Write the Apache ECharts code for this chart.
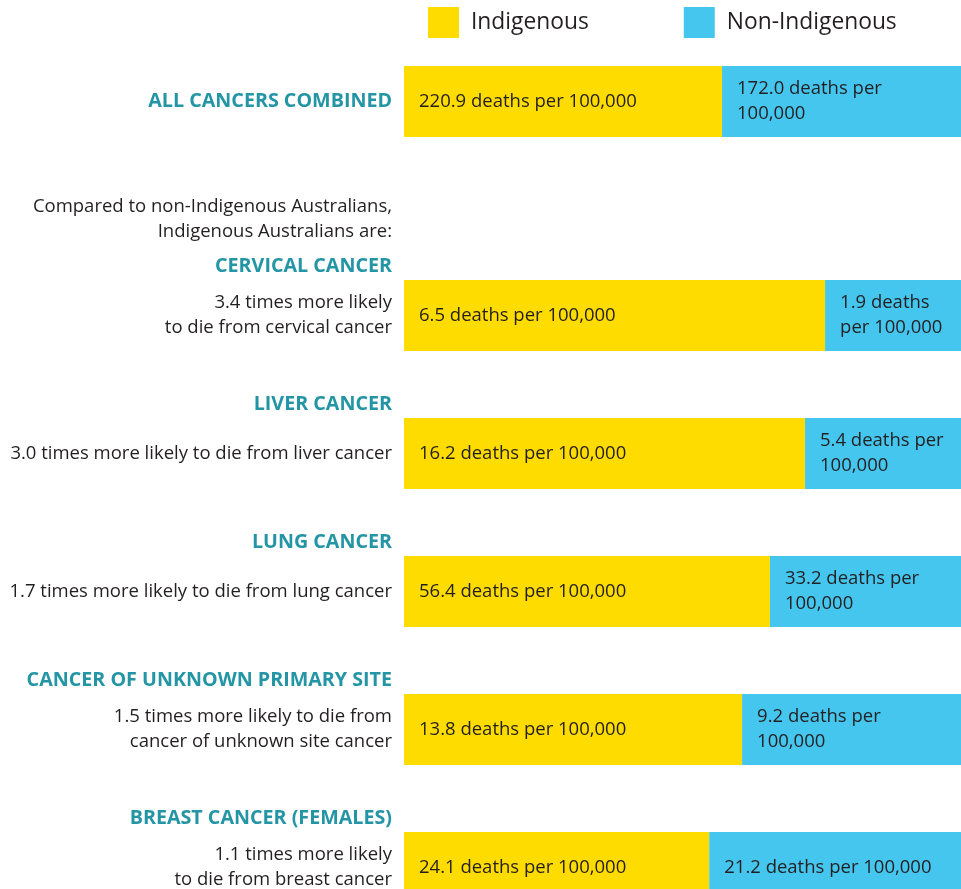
<!DOCTYPE html>
<html>
<head>
<meta charset="utf-8">
<script src="https://cdn.jsdelivr.net/npm/echarts@6/dist/echarts.min.js"></script>
<style>
  html, body { margin: 0; padding: 0; background: #fff; }
  #chart { width: 961px; height: 889px; }
</style>
</head>
<body>
<div id="chart"></div>
<script>
// death rates printed on the bars (deaths per 100,000)
const allTitle = "ALL CANCERS COMBINED"
const allIndigenous = [220.9]
const allNonIndigenous = [172.0]
// share of each bar that is yellow, % of the bar's length
const allIndigenousShare = [57.1]

const cancerTitles = [
  "CERVICAL CANCER",
  "LIVER CANCER",
  "LUNG CANCER",
  "CANCER OF UNKNOWN PRIMARY SITE",
  "BREAST CANCER (FEMALES)",
]
const cancerNotes = [
  "3.4 times more likely\nto die from cervical cancer",
  "3.0 times more likely to die from liver cancer",
  "1.7 times more likely to die from lung cancer",
  "1.5 times more likely to die from\ncancer of unknown site cancer",
  "1.1 times more likely\nto die from breast cancer",
]
const indigenous = [6.5, 16.2, 56.4, 13.8, 24.1]
const nonIndigenous = [1.9, 5.4, 33.2, 9.2, 21.2]
const indigenousShare = [75.6, 72.0, 65.7, 60.7, 54.8]
// how the non-Indigenous label wraps: 0 none, 1 before "100,000", 2 before "per"
const nonWrap = [2, 1, 1, 1, 0]
const allNonWrap = [1]

const YELLOW = "#FFDC00"
const BLUE = "#44C6EE"
const TEAL = "#2395A5"
const INK = "#231F20"
const FONT = "Open Sans"
const BODY_SIZE = 18.5
const HEAD_SIZE = 19.7

function rest(shares) {
  return shares.map((v) => 100 - v)
}

function wrapLabel(v, mode) {
  const s = v.toFixed(1)
  if (mode === 1) return s + " deaths per\n100,000"
  if (mode === 2) return s + " deaths\nper 100,000"
  return s + " deaths per 100,000"
}

// Open Sans sits a little higher than the original face, nudge it down
const barLabel = {
  show: true,
  position: "insideLeft",
  distance: 15,
  color: INK,
  fontFamily: FONT,
  fontSize: BODY_SIZE,
  lineHeight: 25,
  align: "left",
  padding: [5, 0, 0, 0],
}

const chart = echarts.init(document.getElementById("chart"))

const option = {
  backgroundColor: "#fff",
  animation: false,
  textStyle: { fontFamily: FONT },
  title: {
    text: "Compared to non-Indigenous Australians,\nIndigenous Australians are:",
    left: 392,
    top: 194,
    padding: 0,
    textAlign: "right",
    textStyle: {
      fontFamily: FONT,
      fontSize: BODY_SIZE,
      fontWeight: "normal",
      color: INK,
      lineHeight: 25,
    },
  },
  legend: {
    left: 423,
    top: 2,
    icon: "rect",
    itemWidth: 31,
    itemHeight: 31,
    itemGap: 95,
    data: ["Indigenous", "Non-Indigenous"],
    textStyle: {
      fontFamily: FONT,
      fontSize: 22.8,
      color: INK,
      padding: [0, 0, 0, 7],
    },
  },
  grid: [
    { left: 404, right: 0, top: 66, height: 71, outerBoundsMode: "none" },
    // five rows, 138px apart, first bar centred at 315.5
    { left: 404, right: 0, top: 315.5, height: 552, outerBoundsMode: "none" },
  ],
  xAxis: [
    { type: "value", gridIndex: 0, min: 0, max: 100, show: false },
    { type: "value", gridIndex: 1, min: 0, max: 100, show: false },
  ],
  yAxis: [
    {
      type: "category",
      gridIndex: 0,
      data: [allTitle],
      axisLine: { show: false },
      axisTick: { show: false },
      axisLabel: {
        margin: 12,
        color: TEAL,
        fontFamily: FONT,
        fontSize: HEAD_SIZE,
        fontWeight: "bold",
        padding: [4, 0, 0, 0],
      },
    },
    {
      type: "category",
      gridIndex: 1,
      inverse: true,
      boundaryGap: false,
      data: cancerNotes,
      axisLine: { show: false },
      axisTick: { show: false },
      axisLabel: {
        margin: 12,
        color: INK,
        fontFamily: FONT,
        fontSize: BODY_SIZE,
        lineHeight: 25,
        align: "right",
        padding: [5, 0, 0, 0],
      },
    },
    {
      type: "category",
      gridIndex: 1,
      inverse: true,
      boundaryGap: false,
      position: "left",
      data: cancerTitles,
      axisLine: { show: false },
      axisTick: { show: false },
      axisLabel: {
        margin: 12,
        align: "right",
        formatter: (v) => "{t|" + v + "}\n{g| }",
        rich: {
          t: {
            color: TEAL,
            fontFamily: FONT,
            fontSize: HEAD_SIZE,
            fontWeight: "bold",
            lineHeight: 20,
            align: "right",
          },
          g: { fontSize: 10, lineHeight: 99 },
        },
      },
    },
  ],
  series: [
    {
      name: "Indigenous",
      type: "bar",
      stack: "all",
      xAxisIndex: 0,
      yAxisIndex: 0,
      barWidth: 71,
      itemStyle: { color: YELLOW },
      label: { ...barLabel, formatter: (p) => wrapLabel(allIndigenous[p.dataIndex], 0) },
      data: allIndigenousShare,
    },
    {
      name: "Non-Indigenous",
      type: "bar",
      stack: "all",
      xAxisIndex: 0,
      yAxisIndex: 0,
      barWidth: 71,
      itemStyle: { color: BLUE },
      label: {
        ...barLabel,
        formatter: (p) => wrapLabel(allNonIndigenous[p.dataIndex], allNonWrap[p.dataIndex]),
      },
      data: rest(allIndigenousShare),
    },
    {
      name: "Indigenous",
      type: "bar",
      stack: "rows",
      xAxisIndex: 1,
      yAxisIndex: 1,
      barWidth: 71,
      itemStyle: { color: YELLOW },
      label: { ...barLabel, formatter: (p) => wrapLabel(indigenous[p.dataIndex], 0) },
      data: indigenousShare,
    },
    {
      name: "Non-Indigenous",
      type: "bar",
      stack: "rows",
      xAxisIndex: 1,
      yAxisIndex: 1,
      barWidth: 71,
      itemStyle: { color: BLUE },
      label: {
        ...barLabel,
        formatter: (p) => wrapLabel(nonIndigenous[p.dataIndex], nonWrap[p.dataIndex]),
      },
      data: rest(indigenousShare),
    },
  ],
}

chart.setOption(option)
window.addEventListener("resize", () => chart.resize())
</script>
</body>
</html>
